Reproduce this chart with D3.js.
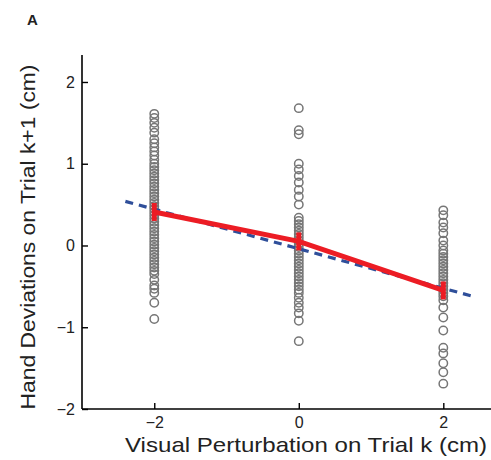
<!DOCTYPE html>
<html><head><meta charset="utf-8">
<script src="https://cdn.jsdelivr.net/npm/d3@7"></script>
<style>body{margin:0;background:#fff;} svg{display:block;font-family:"Liberation Sans",Arial,sans-serif;}</style>
</head><body>
<script>
const perturbations = [-2, 0, 2];
const devAtMinus2 = [1.61,1.56,1.5,1.44,1.38,1.3,1.25,1.2,1.15,1.1,1.05,1.0,0.96,0.92,0.88,0.84,0.8,0.76,0.72,0.68,0.64,0.6,0.56,0.52,0.48,0.45,0.41,0.37,0.33,0.29,0.25,0.21,0.17,0.13,0.09,0.05,0.01,-0.03,-0.07,-0.11,-0.15,-0.19,-0.23,-0.27,-0.31,-0.35,-0.42,-0.49,-0.53,-0.58,-0.7,-0.9];
const devAtZero = [1.68,1.41,1.36,1.0,0.93,0.85,0.77,0.68,0.6,0.5,0.34,0.3,0.26,0.22,0.18,0.14,0.1,0.06,0.02,-0.02,-0.06,-0.1,-0.14,-0.18,-0.22,-0.26,-0.3,-0.34,-0.38,-0.42,-0.46,-0.5,-0.54,-0.58,-0.64,-0.7,-0.76,-0.83,-0.92,-1.17];
const devAtPlus2 = [0.43,0.37,0.28,0.22,0.15,0.06,0.0,-0.06,-0.1,-0.14,-0.18,-0.22,-0.26,-0.3,-0.34,-0.38,-0.42,-0.46,-0.5,-0.54,-0.58,-0.62,-0.67,-0.76,-0.88,-1.04,-1.25,-1.32,-1.44,-1.55,-1.69];
const meanDev = [0.41, 0.05, -0.55];
const semDev = [0.11, 0.11, 0.11];
const fitX = [-2.4, 2.4];
const fitY = [0.54, -0.62];
const xTicks = [-2, 0, 2];
const yTicks = [-2, -1, 0, 1, 2];

const W = 491, H = 460;
const svg = d3.select("body").append("svg").attr("width", W).attr("height", H);
const x = d3.scaleLinear().domain([-3, 2.66]).range([82, 491]);
const y = d3.scaleLinear().domain([-2, 2.33]).range([409, 55]);
const fmt = d => d < 0 ? "\u2212" + Math.abs(d) : String(d);

// points
const cols = [devAtMinus2, devAtZero, devAtPlus2];
cols.forEach((vals, i) => {
  svg.append("g").selectAll("circle").data(vals).join("circle")
    .attr("cx", x(perturbations[i])).attr("cy", d => y(d)).attr("r", 4.2)
    .attr("fill", "none").attr("stroke", "#767676").attr("stroke-width", 1.5);
});

// fit line
svg.append("line")
  .attr("x1", x(fitX[0])).attr("y1", y(fitY[0]))
  .attr("x2", x(fitX[1])).attr("y2", y(fitY[1]))
  .attr("stroke", "#2f4f9a").attr("stroke-width", 3.2).attr("stroke-dasharray", "8,6");

// mean line
svg.append("path").datum(perturbations.map((p, i) => [p, meanDev[i]]))
  .attr("d", d3.line().x(d => x(d[0])).y(d => y(d[1])))
  .attr("fill", "none").attr("stroke", "#ec1c24").attr("stroke-width", 5);
svg.append("g").selectAll("line").data(perturbations).join("line")
  .attr("x1", d => x(d)).attr("x2", d => x(d))
  .attr("y1", (d, i) => y(meanDev[i] + semDev[i]))
  .attr("y2", (d, i) => y(meanDev[i] - semDev[i]))
  .attr("stroke", "#ec1c24").attr("stroke-width", 5);

// axes
const xAxis = svg.append("g").attr("transform", `translate(0,${y(-2)})`)
  .call(d3.axisBottom(x).tickValues(xTicks).tickSize(-6).tickPadding(8).tickFormat(fmt));
const yAxis = svg.append("g").attr("transform", `translate(${x(-3)},0)`)
  .call(d3.axisLeft(y).tickValues(yTicks).tickSize(-6).tickPadding(7).tickFormat(fmt));
[xAxis, yAxis].forEach(a => {
  a.select(".domain").attr("stroke", "#000").attr("stroke-width", 1.6);
  a.selectAll(".tick line").attr("stroke", "#000").attr("stroke-width", 1.4);
  a.selectAll("text").attr("font-size", 16).attr("fill", "#222").attr("font-family", "Liberation Sans, Arial, sans-serif");
});
xAxis.select(".domain").attr("d", `M82,0H491`);
yAxis.select(".domain").attr("d", `M0,${y(-2)}V${y(2.33)}`);

svg.append("text").attr("x", 306).attr("y", 452).attr("text-anchor", "middle")
  .attr("font-size", 21).attr("fill", "#222")
  .attr("textLength", 362).attr("lengthAdjust", "spacingAndGlyphs")
  .text("Visual Perturbation on Trial k (cm)");
svg.append("text").attr("transform", "translate(35,237) rotate(-90)").attr("text-anchor", "middle")
  .attr("font-size", 21).attr("fill", "#222")
  .attr("textLength", 345).attr("lengthAdjust", "spacingAndGlyphs")
  .text("Hand Deviations on Trial k+1 (cm)");
svg.append("text").attr("x", 27).attr("y", 25).attr("font-size", 15).attr("font-weight", "bold")
  .attr("fill", "#222").text("A");
</script>
</body></html>
